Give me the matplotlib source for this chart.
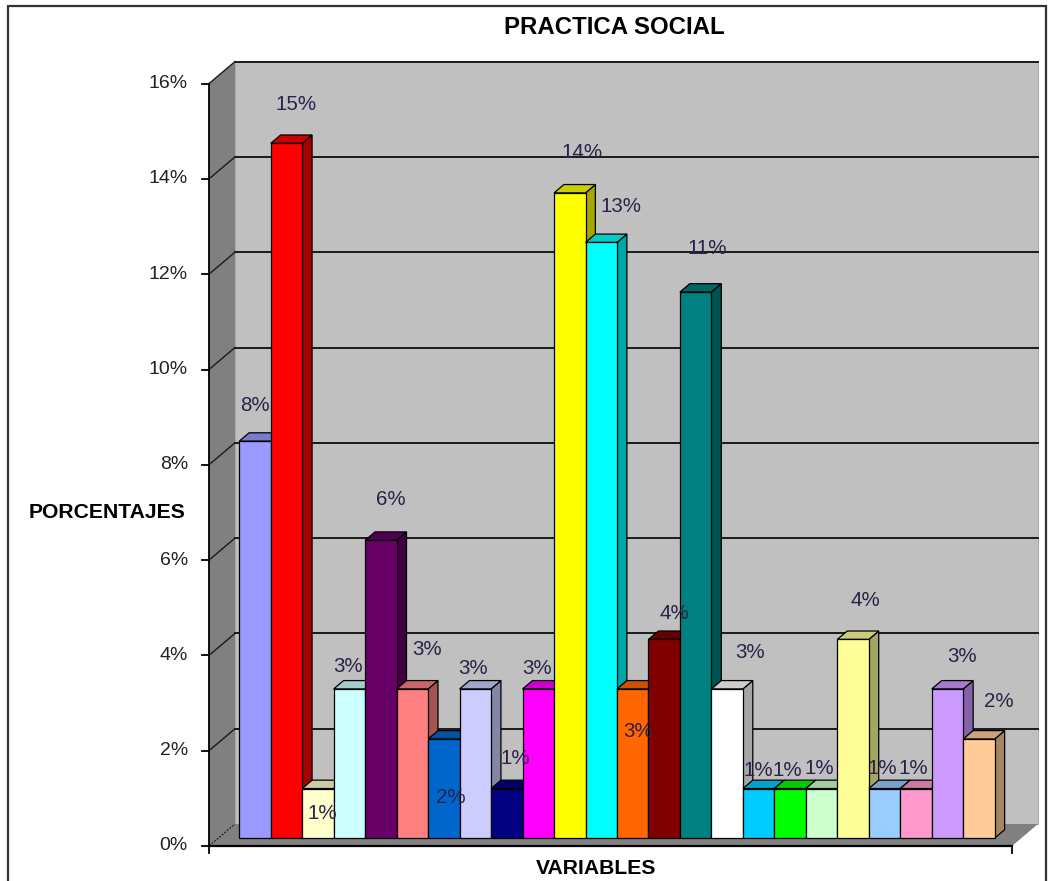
import numpy as np
import matplotlib
matplotlib.use("Agg")
import matplotlib.pyplot as plt
from matplotlib.patches import Polygon, Rectangle
from matplotlib.colors import to_rgb

plt.rcParams['font.family'] = ['Liberation Sans', 'DejaVu Sans']

# Share of each response (percent), one bar per variable
values = [8.33, 14.58, 1.04, 3.13, 6.25, 3.13, 2.08, 3.13, 1.04, 3.13,
          13.54, 12.50, 3.13, 4.17, 11.46, 3.13, 1.04, 1.04, 1.04, 4.17,
          1.04, 1.04, 3.13, 2.08]
bar_colors = ['#9999FF', '#FF0000', '#FFFFCC', '#CCFFFF', '#660066', '#FF8080',
              '#0066CC', '#CCCCFF', '#000080', '#FF00FF', '#FFFF00', '#00FFFF',
              '#FF6600', '#800000', '#008080', '#FFFFFF', '#00CCFF', '#00FF00',
              '#CCFFCC', '#FFFF99', '#99CCFF', '#FF99CC', '#CC99FF', '#FFCC99']
y_ticks = [0, 2, 4, 6, 8, 10, 12, 14, 16]

# label placement (pixels from the top of each bar's front face)
label_dx = [0, 10, 4, -1, 10, 15, 7, -2, 9, -1, 12, 20, 5, 10, 12, 23,
            0, -3, -2, 12, -2, -3, 14, 20]
label_dy = [36, 39, -25, 22, 41, 39, -59, 20, 30, 20, 40, 36, -43, 26, 44, 36,
            18, 18, 20, 39, 20, 20, 32, 37]

W, H, DPI = 1049, 881, 100
PX_X = 31.48    # pixels per category
PX_Y = 47.65    # pixels per percent
X0 = -1.163     # front-left corner of the floor
X1 = X0 + 803 / PX_X
DX, DY = 26 / PX_X, 22 / PX_Y          # full depth of the box
F0, F1 = 0.36, 0.74                     # bar depth range (fraction of box)


def shade(c, f):
    r, g, b = to_rgb(c)
    return (r * f, g * f, b * f)


fig = plt.figure(figsize=(W / DPI, H / DPI), dpi=DPI)
ax = fig.add_axes([0, 0, 1, 1])
ax.set_xlim(X0 - 209 / PX_X, X0 + (W - 209) / PX_X)
ax.set_ylim(-35 / PX_Y, (H - 35) / PX_Y)
ax.axis('off')

top = y_ticks[-1]
# walls and floor
ax.add_patch(Polygon([(X0, 0), (X0, top), (X0 + DX, top + DY), (X0 + DX, DY)],
                     closed=True, facecolor='#808080', edgecolor='none', zorder=1))
ax.add_patch(Polygon([(X0 + DX, DY), (X0 + DX, top + DY), (X1 + DX, top + DY), (X1 + DX, DY)],
                     closed=True, facecolor='#C0C0C0', edgecolor='#A0A0A0', lw=0.6, zorder=1))
ax.add_patch(Polygon([(X0, 0), (X1, 0), (X1 + DX, DY), (X0 + DX, DY)],
                     closed=True, facecolor='#808080', edgecolor='none', zorder=1))

# gridlines on the back and side walls
for v in y_ticks[1:]:
    ax.plot([X0 + DX, X1 + DX], [v + DY, v + DY], color='#1a1a1a', lw=1.4, zorder=2)
    ax.plot([X0, X0 + DX], [v, v + DY], color='#1a1a1a', lw=1.0, zorder=2)
ax.plot([X0, X0 + DX], [0, DY], color='#1a1a1a', lw=0.8, ls=(0, (2, 1)), zorder=2)

# axis lines and ticks
ax.plot([X0, X0], [-7 / PX_Y, top], color='black', lw=1.3, zorder=3)
ax.plot([X0, X1], [0, 0], color='black', lw=1.6, zorder=3)
ax.plot([X1, X1], [0, -7 / PX_Y], color='black', lw=1.3, zorder=3)
for v in y_ticks:
    ax.plot([X0 - 7 / PX_X, X0], [v, v], color='black', lw=1.3, zorder=3)
    ax.text(X0 - 21 / PX_X, v, f'{v}%', ha='right', va='center',
            fontsize=14, color='#222222')

# bars with front, top and right-hand faces, drawn left to right
fx, fy = F0 * DX, F0 * DY
bx, by = (F1 - F0) * DX, (F1 - F0) * DY
for i, (v, c) in enumerate(zip(values, bar_colors)):
    z = 5 + i
    l, r = i - 0.5 + fx, i + 0.5 + fx
    b, t = fy, v + fy
    ax.add_patch(Polygon([(r, b), (r + bx, b + by), (r + bx, t + by), (r, t)], closed=True,
                         facecolor=shade(c, 0.65), edgecolor='black', lw=0.9, zorder=z))
    ax.add_patch(Polygon([(l, t), (r, t), (r + bx, t + by), (l + bx, t + by)], closed=True,
                         facecolor=shade(c, 0.8), edgecolor='black', lw=0.9, zorder=z))
    ax.add_patch(Rectangle((l, b), 1.0, v, facecolor=c, edgecolor='black', lw=0.9, zorder=z))

    label = f'{int(np.floor(v + 0.5))}%'
    ax.annotate(label, xy=(i + fx, t), xytext=(label_dx[i], label_dy[i]),
                textcoords='offset pixels', ha='center', va='center',
                fontsize=14.8, color='#2a2248', zorder=40)

# titles
fig.text(614 / W, 1 - 27 / H, 'PRACTICA SOCIAL', ha='center', va='center',
         fontsize=17.3, fontweight='bold', color='black')
fig.text(107 / W, 1 - 512 / H, 'PORCENTAJES', ha='center', va='center',
         fontsize=15.2, fontweight='bold', color='black')
fig.text(596 / W, 1 - 868 / H, 'VARIABLES', ha='center', va='center',
         fontsize=15.2, fontweight='bold', color='black')

# chart frame
fig.patches.append(Rectangle((8 / W, -0.05), (1046 - 8) / W, 1.05 - 6 / H,
                             transform=fig.transFigure, fill=False,
                             edgecolor='#333333', lw=1.6))

fig.savefig('out.png', dpi=DPI)
